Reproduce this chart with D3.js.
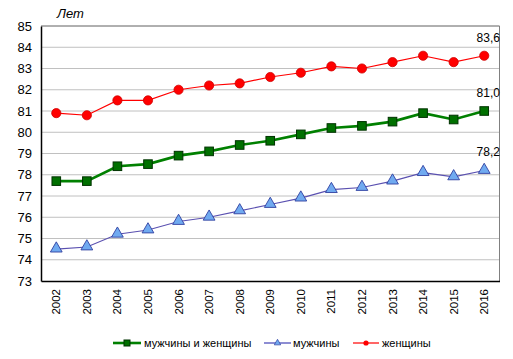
<!DOCTYPE html>
<html><head><meta charset="utf-8">
<script src="https://cdn.jsdelivr.net/npm/d3@7"></script>
<style>body{margin:0;background:#fff}svg{display:block;font-family:"Liberation Sans",Arial,sans-serif}</style>
</head><body>
<svg id="c" width="513" height="359"></svg>
<script>
const years = ["2002","2003","2004","2005","2006","2007","2008","2009","2010","2011","2012","2013","2014","2015","2016"];
const both  = [77.7,77.7,78.4,78.5,78.9,79.1,79.4,79.6,79.9,80.2,80.3,80.5,80.9,80.6,81.0];
const men   = [74.5,74.6,75.2,75.4,75.8,76.0,76.3,76.6,76.9,77.3,77.4,77.7,78.1,77.9,78.2];
const women = [80.9,80.8,81.5,81.5,82.0,82.2,82.3,82.6,82.8,83.1,83.0,83.3,83.6,83.3,83.6];
const yTicks = [73,74,75,76,77,78,79,80,81,82,83,84,85];
const names = ["мужчины и женщины","мужчины","женщины"];

const svg = d3.select("#c");
const L=41,R=499.5,T=26,B=281;
const x = d3.scaleBand().domain(years).range([L,R]);
const y = d3.scaleLinear().domain([73,85]).range([B,T]);
const cx = d => x(d)+x.bandwidth()/2;

// grid
svg.append("g").selectAll("line").data(yTicks.filter(t=>t>73)).join("line")
  .attr("x1",L).attr("x2",R).attr("y1",d=>y(d)).attr("y2",d=>y(d))
  .attr("stroke","#c0c0c0").attr("stroke-width",1);
// border
svg.append("line").attr("x1",L).attr("x2",R).attr("y1",T).attr("y2",T).attr("stroke","#808080");
svg.append("line").attr("x1",R).attr("x2",R).attr("y1",T).attr("y2",B).attr("stroke","#808080");

// axes
const ya = svg.append("g").attr("transform",`translate(${L},0)`).call(d3.axisLeft(y).tickValues(yTicks).tickSize(0).tickPadding(9).tickFormat(d3.format("d")));
ya.select(".domain").attr("stroke","#000").attr("stroke-width",1.5);
ya.selectAll("text").attr("font-size",13).attr("fill","#000").attr("font-family","Liberation Sans, Arial, sans-serif");
const xa = svg.append("g").attr("transform",`translate(0,${B})`).call(d3.axisBottom(x).tickSize(0));
xa.select(".domain").attr("stroke","#000").attr("stroke-width",1.5);
xa.selectAll("text").attr("font-size",11.5).attr("fill","#000").attr("font-family","Liberation Sans, Arial, sans-serif")
  .attr("transform","rotate(-90)").attr("text-anchor","end").attr("x",-8).attr("y",0).attr("dy","0.35em");

// Лет
svg.append("text").attr("x",57).attr("y",17.5).attr("font-size",13).attr("font-style","italic").text("Лет");

const line = d3.line().x((d,i)=>cx(years[i])).y(d=>y(d));
// women
svg.append("path").datum(women).attr("d",line).attr("fill","none").attr("stroke","#ff0000").attr("stroke-width",1.2);
svg.append("g").selectAll("circle").data(women).join("circle")
  .attr("cx",(d,i)=>cx(years[i])).attr("cy",d=>y(d)).attr("r",4.6).attr("fill","#ff0000").attr("stroke","#d00000").attr("stroke-width",0.8);
// both
svg.append("path").datum(both).attr("d",line).attr("fill","none").attr("stroke","#008000").attr("stroke-width",2.6);
svg.append("g").selectAll("rect").data(both).join("rect")
  .attr("x",(d,i)=>cx(years[i])-4.3).attr("y",d=>y(d)-4.3).attr("width",8.6).attr("height",8.6)
  .attr("fill","#007000").attr("stroke","#003300").attr("stroke-width",1);
// men
svg.append("path").datum(men).attr("d",line).attr("fill","none").attr("stroke","#5a50b0").attr("stroke-width",1.1);
const tri = d3.symbol().type(d3.symbolTriangle).size(60);
svg.append("g").selectAll("path").data(men).join("path")
  .attr("d",tri).attr("transform",(d,i)=>`translate(${cx(years[i])},${y(d)-0.5})`)
  .attr("fill","#70aaf0").attr("stroke","#3040a0").attr("stroke-width",0.9);

// end labels
const last = years.length-1;
const fmt = v => v.toFixed(1).replace(".",",");
[[women[last],-14],[both[last],-14],[men[last],-15]].forEach(([v,dy])=>{
  svg.append("text").attr("x",cx(years[last])+4).attr("y",y(v)+dy).attr("text-anchor","middle")
    .attr("font-size",12).attr("fill","#000").text(fmt(v));
});

// legend
const lg = [
 {x1:113,x2:141,tx:144,c:"#008000",w:2.6,m:"sq"},
 {x1:264,x2:291,tx:293,c:"#3030b0",w:1.1,m:"tri"},
 {x1:353,x2:379,tx:382,c:"#ff0000",w:1.2,m:"ci"}];
const ly=343;
lg.forEach((g,i)=>{
  svg.append("line").attr("x1",g.x1).attr("x2",g.x2).attr("y1",ly).attr("y2",ly).attr("stroke",g.c).attr("stroke-width",g.w);
  const mx=(g.x1+g.x2)/2;
  if(g.m==="sq") svg.append("rect").attr("x",mx-3).attr("y",ly-3).attr("width",6).attr("height",6).attr("fill","#007000").attr("stroke","#003300");
  if(g.m==="tri") svg.append("path").attr("d",d3.symbol().type(d3.symbolTriangle).size(18)).attr("transform",`translate(${mx},${ly})`).attr("fill","#70aaf0").attr("stroke","#3040a0").attr("stroke-width",0.7);
  if(g.m==="ci") svg.append("circle").attr("cx",mx).attr("cy",ly).attr("r",2.6).attr("fill","#ff0000");
  svg.append("text").attr("x",g.tx).attr("y",ly).attr("dy","0.35em").attr("font-size",11).attr("fill","#000").text(names[i]);
});
</script>
</body></html>
